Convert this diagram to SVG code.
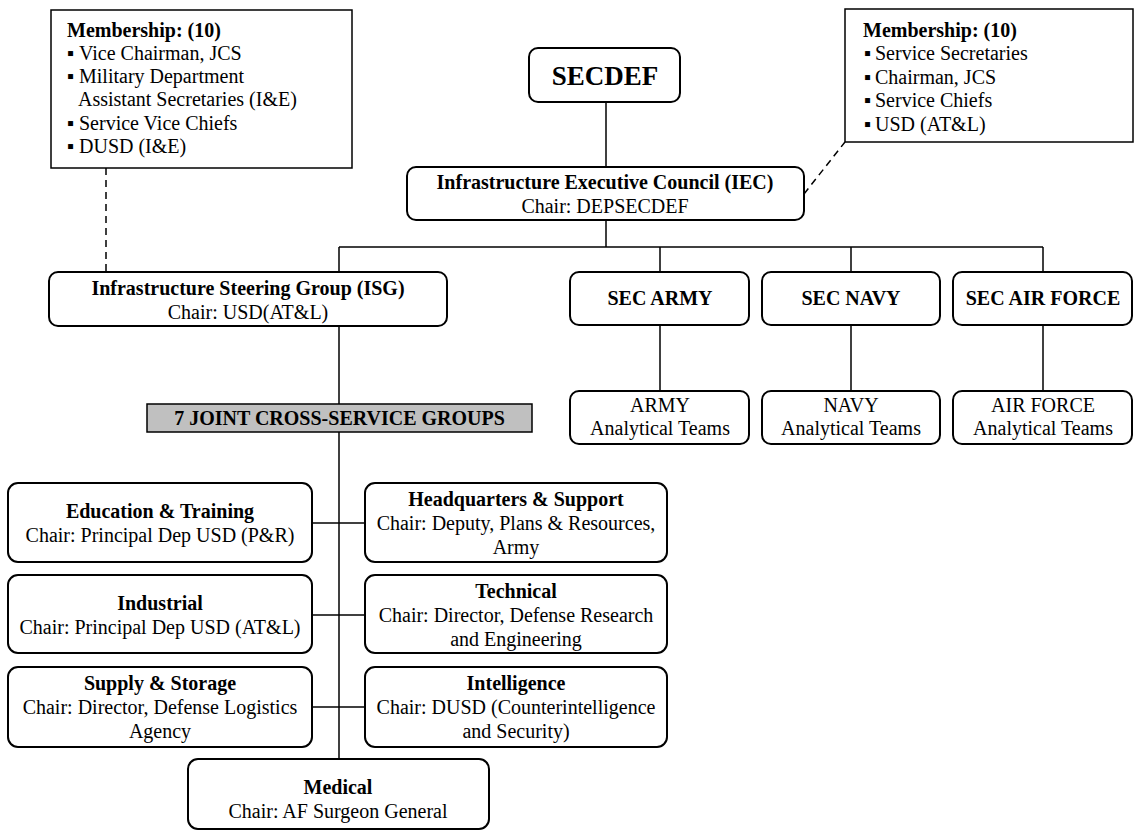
<svg xmlns="http://www.w3.org/2000/svg" width="1138" height="832" viewBox="0 0 1138 832">
<style>
  text { font-family: "Liberation Serif", "Times New Roman", serif; font-size: 20px; fill: #000; }
  .b { font-weight: bold; }
  .c { text-anchor: middle; }
  .box { fill: #fff; stroke: #000; stroke-width: 2; }
  .mem { fill: #fff; stroke: #000; stroke-width: 1.5; }
  .bar { fill: #c0c0c0; stroke: #000; stroke-width: 1.5; }
  .ln { fill: none; stroke: #000; stroke-width: 1.5; }
  .dash { fill: none; stroke: #000; stroke-width: 1.5; stroke-dasharray: 7 5; }
</style>
<rect x="0" y="0" width="1138" height="832" fill="#fff"/>
<g id="connectors">
  <line class="ln" x1="606" y1="102" x2="606" y2="247"/>
  <line class="ln" x1="339" y1="247" x2="1043" y2="247"/>
  <line class="ln" x1="339" y1="247" x2="339" y2="272"/>
  <line class="ln" x1="660" y1="247" x2="660" y2="272"/>
  <line class="ln" x1="851" y1="247" x2="851" y2="272"/>
  <line class="ln" x1="1043" y1="247" x2="1043" y2="272"/>
  <line class="ln" x1="660" y1="325" x2="660" y2="391"/>
  <line class="ln" x1="851" y1="325" x2="851" y2="391"/>
  <line class="ln" x1="1043" y1="325" x2="1043" y2="391"/>
  <line class="ln" x1="339" y1="326" x2="339" y2="759"/>
  <line class="ln" x1="312" y1="523" x2="365" y2="523"/>
  <line class="ln" x1="312" y1="615" x2="365" y2="615"/>
  <line class="ln" x1="312" y1="707" x2="365" y2="707"/>
  <line class="dash" x1="106" y1="168" x2="106" y2="272"/>
  <line class="dash" x1="804" y1="194" x2="845" y2="142"/>
</g>
<g id="membership-isg">
  <rect class="mem" x="51" y="10" width="301" height="158"/>
  <text class="b" x="67" y="37">Membership: (10)</text>
  <text x="67" y="60">▪<tspan x="79">Vice Chairman, JCS</tspan></text>
  <text x="67" y="83">▪<tspan x="79">Military Department</tspan></text>
  <text x="78" y="106">Assistant Secretaries (I&amp;E)</text>
  <text x="67" y="130">▪<tspan x="79">Service Vice Chiefs</tspan></text>
  <text x="67" y="153">▪<tspan x="79">DUSD (I&amp;E)</tspan></text>
</g>
<g id="membership-iec">
  <rect class="mem" x="845" y="9" width="288" height="133"/>
  <text class="b" x="863" y="37">Membership: (10)</text>
  <text x="864" y="60">▪<tspan x="875">Service Secretaries</tspan></text>
  <text x="864" y="84">▪<tspan x="875">Chairman, JCS</tspan></text>
  <text x="864" y="107">▪<tspan x="875">Service Chiefs</tspan></text>
  <text x="864" y="131">▪<tspan x="875">USD (AT&amp;L)</tspan></text>
</g>
<g id="secdef">
  <rect class="box" x="529" y="48" width="151" height="54" rx="9"/>
  <text class="b c" x="605" y="85" style="font-size:27px">SECDEF</text>
</g>
<g id="iec">
  <rect class="box" x="407" y="167" width="397" height="53" rx="9"/>
  <text class="b c" x="605" y="189">Infrastructure Executive Council (IEC)</text>
  <text class="c" x="605" y="213">Chair: DEPSECDEF</text>
</g>
<g id="isg">
  <rect class="box" x="49" y="272" width="398" height="54" rx="9"/>
  <text class="b c" x="248" y="295">Infrastructure Steering Group (ISG)</text>
  <text class="c" x="248" y="319">Chair: USD(AT&amp;L)</text>
</g>
<g id="sec-army">
  <rect class="box" x="570" y="272" width="179" height="53" rx="9"/>
  <text class="b c" x="660" y="305">SEC ARMY</text>
</g>
<g id="sec-navy">
  <rect class="box" x="762" y="272" width="178" height="53" rx="9"/>
  <text class="b c" x="851" y="305">SEC NAVY</text>
</g>
<g id="sec-airforce">
  <rect class="box" x="953" y="272" width="179" height="53" rx="9"/>
  <text class="b c" x="1043" y="305">SEC AIR FORCE</text>
</g>
<g id="army-teams">
  <rect class="box" x="570" y="391" width="179" height="53" rx="9"/>
  <text class="c" x="660" y="412">ARMY</text>
  <text class="c" x="660" y="435">Analytical Teams</text>
</g>
<g id="navy-teams">
  <rect class="box" x="762" y="391" width="178" height="53" rx="9"/>
  <text class="c" x="851" y="412">NAVY</text>
  <text class="c" x="851" y="435">Analytical Teams</text>
</g>
<g id="airforce-teams">
  <rect class="box" x="953" y="391" width="179" height="53" rx="9"/>
  <text class="c" x="1043" y="412">AIR FORCE</text>
  <text class="c" x="1043" y="435">Analytical Teams</text>
</g>
<g id="jcsg">
  <rect class="bar" x="147" y="404" width="385" height="28"/>
  <text class="b c" x="339.5" y="425">7 JOINT CROSS-SERVICE GROUPS</text>
</g>
<g id="education">
  <rect class="box" x="8" y="483" width="304" height="79" rx="10"/>
  <text class="b c" x="160" y="518">Education &amp; Training</text>
  <text class="c" x="160" y="542">Chair: Principal Dep USD (P&amp;R)</text>
</g>
<g id="headquarters">
  <rect class="box" x="365" y="483" width="302" height="79" rx="10"/>
  <text class="b c" x="516" y="506">Headquarters &amp; Support</text>
  <text class="c" x="516" y="530">Chair: Deputy, Plans &amp; Resources,</text>
  <text class="c" x="516" y="554">Army</text>
</g>
<g id="industrial">
  <rect class="box" x="8" y="575" width="304" height="78" rx="10"/>
  <text class="b c" x="160" y="610">Industrial</text>
  <text class="c" x="160" y="634">Chair: Principal Dep USD (AT&amp;L)</text>
</g>
<g id="technical">
  <rect class="box" x="365" y="575" width="302" height="78" rx="10"/>
  <text class="b c" x="516" y="598">Technical</text>
  <text class="c" x="516" y="622">Chair: Director, Defense Research</text>
  <text class="c" x="516" y="646">and Engineering</text>
</g>
<g id="supply">
  <rect class="box" x="8" y="667" width="304" height="80" rx="10"/>
  <text class="b c" x="160" y="690">Supply &amp; Storage</text>
  <text class="c" x="160" y="714">Chair: Director, Defense Logistics</text>
  <text class="c" x="160" y="738">Agency</text>
</g>
<g id="intelligence">
  <rect class="box" x="365" y="667" width="302" height="80" rx="10"/>
  <text class="b c" x="516" y="690">Intelligence</text>
  <text class="c" x="516" y="714">Chair: DUSD (Counterintelligence</text>
  <text class="c" x="516" y="738">and Security)</text>
</g>
<g id="medical">
  <rect class="box" x="188" y="759" width="301" height="70" rx="10"/>
  <text class="b c" x="338" y="794">Medical</text>
  <text class="c" x="338" y="818">Chair: AF Surgeon General</text>
</g>
</svg>
